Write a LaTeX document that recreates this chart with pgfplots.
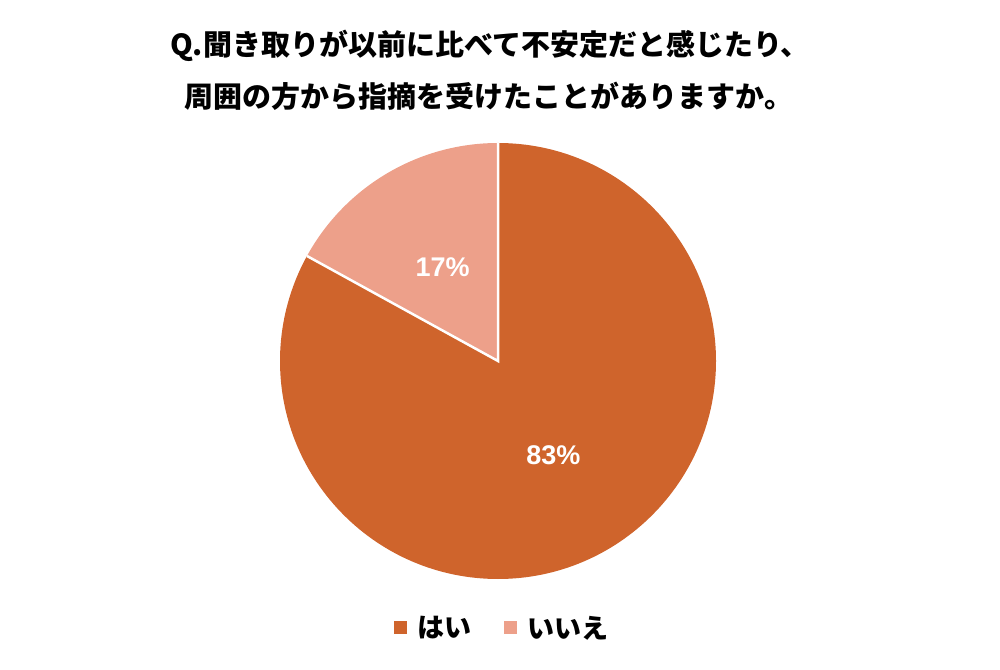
\documentclass[border=0pt]{standalone}
\usepackage{fontspec}
\setmainfont{Liberation Sans}
\newfontfamily\jp{Noto Sans CJK JP}
\usepackage{pgfplots}
\usepackage{pgfplotstable}
\pgfplotsset{compat=1.18}

\definecolor{hai}{HTML}{CF642C}
\definecolor{iie}{HTML}{EDA08A}

% shares in percent: はい, いいえ
\pgfplotstableread{
share
83
17
}\piedata
\pgfplotstablegetelem{0}{share}\of\piedata
\let\shareyes\pgfplotsretval
\pgfplotstablegetelem{1}{share}\of\piedata
\let\shareno\pgfplotsretval

\begin{document}
\begin{tikzpicture}[x=1pt,y=1pt]
\useasboundingbox (0,0) rectangle (1000,669);
\node[font=\jp\bfseries\fontsize{29}{32}\selectfont] at (490,623) {Q.聞き取りが以前に比べて不安定だと感じたり、};
\node[font=\jp\bfseries\fontsize{29}{32}\selectfont] at (489,573) {周囲の方から指摘を受けたことがありますか。};

\pgfmathsetmacro\cut{90-3.6*\shareyes}
\pgfmathsetmacro\midyes{90-1.8*\shareyes}
\pgfmathsetmacro\midno{\cut-1.8*\shareno}
\pgfmathsetmacro\stop{\cut-3.6*\shareno}

\begin{axis}[
    at={(280pt,90pt)}, anchor=south west,
    width=436pt, height=436pt, scale only axis,
    xmin=-1, xmax=1, ymin=-1, ymax=1,
    hide axis, clip=false,
    legend columns=2,
    legend style={
        at={(0.510,-0.112)}, anchor=center, draw=none, fill=none,
        font=\jp\bfseries\fontsize{27}{30}\selectfont,
        /tikz/every even column/.append style={column sep=30pt},
    },
    legend image code/.code={
        \fill[#1, draw=none] (0pt,-6.5pt) rectangle (13pt,6.5pt);
        \path[draw=none, fill=none] (0pt,0pt) rectangle (22pt,0pt);
    },
]
\addlegendimage{hai}
\addlegendentry{はい}
\addlegendimage{iie}
\addlegendentry{いいえ}

\fill[hai] (axis cs:0,0) -- (axis cs:0,1) arc[start angle=90, end angle=\cut, radius=218pt] -- cycle;
\fill[iie] (axis cs:0,0) -- (axis cs:{cos(\cut)},{sin(\cut)}) arc[start angle=\cut, end angle=\stop, radius=218pt] -- cycle;
\draw[white, line width=2.5pt] (axis cs:{cos(\cut)},{sin(\cut)}) -- (axis cs:0,0) -- (axis cs:0,1);

\node[white, font=\bfseries\fontsize{27}{30}\selectfont] at (axis cs:{0.5*cos(\midyes)},{0.5*sin(\midyes)}) {\shareyes\%};
\node[white, font=\bfseries\fontsize{27}{30}\selectfont] at (axis cs:{0.5*cos(\midno)},{0.5*sin(\midno)}) {\shareno\%};
\end{axis}
\end{tikzpicture}
\end{document}
